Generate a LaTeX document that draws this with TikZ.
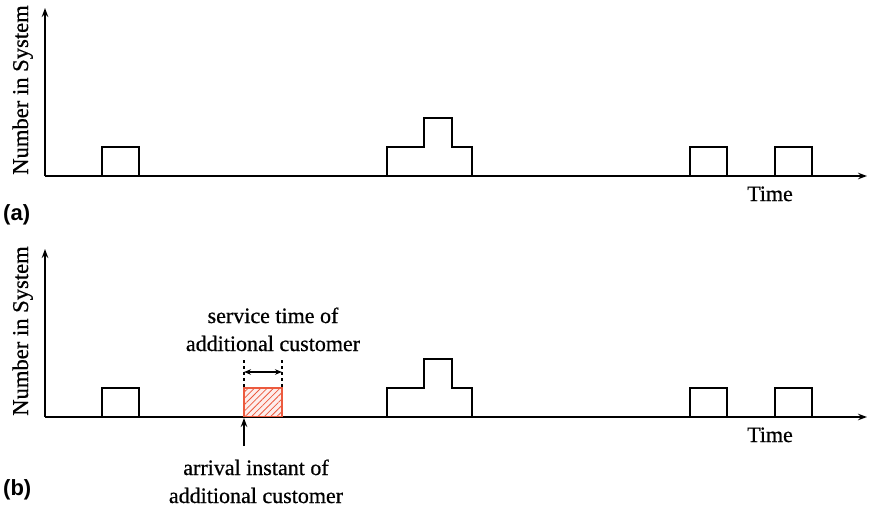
\documentclass[tikz,border=0pt]{standalone}
\usepackage{fontspec}
\setmainfont[FakeBold=0.6]{Liberation Serif}
\newfontfamily\panelfont{Liberation Sans}
\usetikzlibrary{arrows.meta,patterns.meta}

\definecolor{hatchred}{RGB}{236,90,62}

\tikzset{
  axis/.style={line width=1.4pt, -{Stealth[length=9pt,width=6.5pt]}},
  pulse/.style={line width=1.4pt, line join=miter},
  txt/.style={font=\fontsize{22}{28}\selectfont, inner sep=0pt, align=center},
  panel/.style={font=\panelfont\bfseries\fontsize{22}{26}\selectfont, inner sep=0pt, anchor=base west},
  guide/.style={line width=1.1pt, dash pattern=on 3pt off 3pt},
  span/.style={line width=1.2pt, {Stealth[length=7pt,width=5.5pt]}-{Stealth[length=7pt,width=5.5pt]}},
  pointer/.style={line width=1.3pt, -{Stealth[length=9pt,width=6.5pt]}},
  extra/.style={draw=hatchred, line width=1.1pt, fill=hatchred!10,
    postaction={pattern={Lines[angle=45,distance=4.5pt,line width=0.8pt]}, pattern color=hatchred}}
}

\begin{document}
\begin{tikzpicture}[x=1pt,y=-1pt]
\useasboundingbox (0,0) rectangle (871,509);

% one time line: axes, axis labels and the busy periods
\foreach \p/\oy in {a/176,b/417}{
  \begin{scope}[shift={(0,\oy)}]
    \coordinate (o\p) at (45,0);
    \coordinate (ytop\p) at (45,-168);
    \coordinate (xend\p) at (867,0);
    \draw[axis] (o\p) -- (ytop\p);
    \draw[axis] (o\p) -- (xend\p);
    \node[txt, font=\fontsize{22.6}{28}\selectfont, rotate=90, anchor=base] (ylab\p) at (28,-86) {Number in System};
    \node[txt, anchor=base] (time\p) at (770,25) {Time};
    \draw[pulse] (102,0) -- (102,-29) -- (139,-29) -- (139,0);
    \draw[pulse] (387,0) -- (387,-29) -- (424,-29) -- (424,-58)
                 -- (452,-58) -- (452,-29) -- (472,-29) -- (472,0);
    \draw[pulse] (690,0) -- (690,-29) -- (727,-29) -- (727,0);
    \draw[pulse] (775,0) -- (775,-29) -- (812,-29) -- (812,0);
  \end{scope}
}

\node[panel] (la) at (3,220) {(a)};
\node[panel] (lb) at (3,495) {(b)};

% service of the additional customer
\draw[extra] (244,388) rectangle (282,416.3);
\coordinate (g1t) at (244,360);
\coordinate (g1b) at (244,388);
\coordinate (g2t) at (282,360);
\coordinate (g2b) at (282,388);
\draw[guide] (g1t) -- (g1b);
\draw[guide] (g2t) -- (g2b);
\coordinate (s1) at (244,372);
\coordinate (s2) at (282,372);
\draw[span] (s1) -- (s2);
\node[txt, anchor=base] (service) at (273,351) {service time of\\additional customer};

% arrival of the additional customer
\coordinate (arrTail) at (244,446);
\coordinate (arrHead) at (244,418);
\draw[pointer] (arrTail) -- (arrHead);
\node[txt, anchor=base] (arrival) at (256,503) {arrival instant of\\additional customer};
\end{tikzpicture}
\end{document}
